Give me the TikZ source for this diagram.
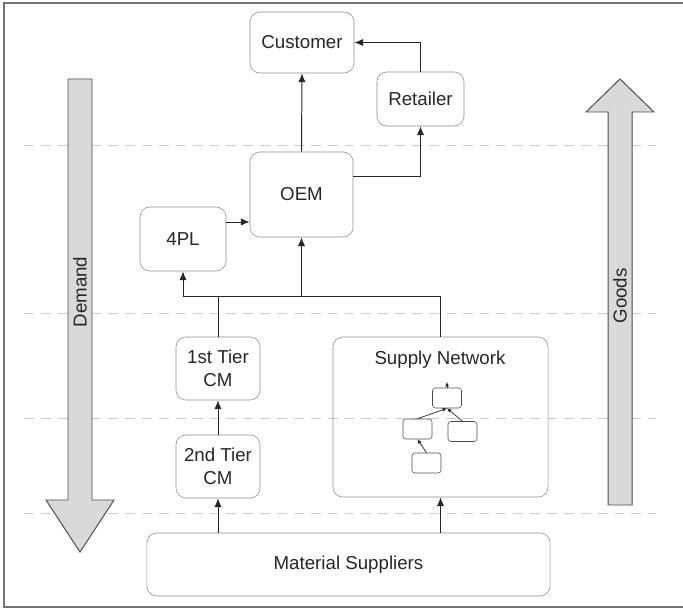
\documentclass[tikz,border=0pt]{standalone}
\usepackage{fontspec}
\setmainfont{Liberation Sans}
\usetikzlibrary{arrows.meta}
\newcommand{\stagefont}{\fontsize{13.3}{16.4}\selectfont}
\tikzset{%
   stage/.style={draw=black!45, rounded corners=7pt, align=center, inner sep=2pt, text=black!85, font=\stagefont},%
   mini/.style={draw=black!70, rounded corners=2pt, minimum width=0.725cm, minimum height=0.5cm, inner sep=0pt},%
   link/.style={draw=black!85, line width=0.7pt, -{Latex[length=2.2mm,width=1.8mm]}},%
   minilink/.style={draw=black!85, line width=0.5pt, -{Latex[length=1.1mm,width=1mm]}},%
   level/.style={draw=black!20, line width=0.7pt, dash pattern=on 7pt off 5pt},%
   flowarrow/.style={draw=black!70, fill=black!15, line width=0.7pt}%
}
\begin{document}
\begin{tikzpicture}[x=0.025cm, y=-0.025cm]%
      \useasboundingbox (0,0) rectangle (683,609);%
      % ~ frame
      \draw[black!55, line width=0.9pt] (683,3) -- (4,3) -- (4,607) -- (683,607);%
      % ~ level lines
      \foreach \y in {145,313,418,513}%
         {%
            \draw[level] (24,\y) -- (656,\y);%
         }%
      % ~ demand and goods
      \draw[flowarrow] (68,79) -- (92,79) -- (92,500) -- (114,500) -- (80,552) -- (46,500) -- (68,500) -- cycle;%
      \node[rotate=90, text=black!85, font=\stagefont] (demand) at (80,292) {Demand};%
      \draw[flowarrow] (608,505) -- (632,505) -- (632,112) -- (654,112) -- (620,79) -- (586,112) -- (608,112) -- cycle;%
      \node[rotate=90, text=black!85, font=\stagefont] (goods) at (620,296) {Goods};%
      % ~ stages
      \node[stage, minimum width=2.6cm, minimum height=1.525cm] (customer) at (302,42.5) {Customer};%
      \node[stage, minimum width=2.175cm, minimum height=1.35cm] (retailer) at (420.5,99) {Retailer};%
      \node[stage, minimum width=2.575cm, minimum height=2.125cm] (oem) at (301.5,194.5) {OEM};%
      \node[stage, minimum width=2.15cm, minimum height=1.6cm] (fourpl) at (183,239) {4PL};%
      \node[stage, minimum width=2.1cm, minimum height=1.575cm] (tier1) at (218,368.5) {1st Tier\\CM};%
      \node[stage, minimum width=2.1cm, minimum height=1.575cm] (tier2) at (218,466.5) {2nd Tier\\CM};%
      \node[stage, minimum width=5.375cm, minimum height=4cm] (sn) at (440.5,417) {};%
      \node[text=black!85, font=\stagefont] (snlabel) at (440,360) {Supply Network};%
      \node[stage, minimum width=10.075cm, minimum height=1.575cm] (material) at (348.5,564.5) {Material Suppliers};%
      % ~ small network
      \node[mini] (mtop) at (447,398) {};%
      \node[mini] (mleft) at (417.5,429) {};%
      \node[mini] (mright) at (462.5,431.5) {};%
      \node[mini] (mbottom) at (426.5,463) {};%
      \coordinate (mout) at (447,382);%
      \draw[minilink] (mtop.north) -- (mout);%
      \draw[minilink] (mleft.north) -- (mtop.south);%
      \draw[minilink] (mright.north) -- (mtop.south);%
      \draw[minilink] (mbottom.north) -- (mleft.south);%
      % ~ links
      \coordinate (bus) at (0,296);%
      \draw[link] (oem.north) -- (customer.south);%
      \draw[link] ([yshift=0.4625cm]oem.east) -| (retailer.south);%
      \draw[link] (retailer.north) |- (customer.east);%
      \draw[link] ([yshift=0.425cm]fourpl.east) coordinate (fp) -- (fp -| oem.west);%
      \draw[link] (sn.north) |- (bus -| fourpl.south) -- (fourpl.south);%
      \draw[link, -] (tier1.north) -- (tier1.north |- bus);%
      \draw[link] (bus -| oem.south) -- (oem.south);%
      \draw[link] (tier2.north) -- (tier1.south);%
      \draw[link] (material.north -| tier2.south) -- (tier2.south);%
      \draw[link] (material.north -| sn.south) -- (sn.south);%
         %
   \end{tikzpicture}
\end{document}
